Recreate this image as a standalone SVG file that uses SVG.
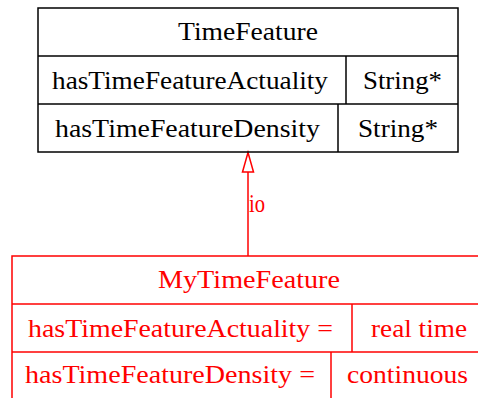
<svg xmlns="http://www.w3.org/2000/svg" width="478" height="398" viewBox="0 0 478 398">
<style>
  .bg{fill:#ffffff}
  .box{fill:none;stroke:#000;stroke-width:1.5}
  .rbox{fill:none;stroke:#ff0000;stroke-width:1.5}
  text{font-family:"Liberation Serif","Times New Roman",serif;font-size:25px;text-anchor:middle}
  .k{fill:#000}
  .r{fill:#ff0000}
  .edge{stroke:#ff0000;stroke-width:1.5;fill:none}
</style>
<defs>
  <marker id="hollow" viewBox="0 0 12 22" refX="11" refY="6" markerWidth="12" markerHeight="22" markerUnits="userSpaceOnUse" orient="auto">
    <path d="M1,0.5 L11,6 L1,11.5 Z" fill="#fff" stroke="#ff0000" stroke-width="1.5"/>
  </marker>
</defs>
<rect class="bg" x="0" y="0" width="478" height="398"/>
<g id="connectors">
  <line class="edge" x1="248" y1="256" x2="248" y2="172"/>
  <path d="M248,152.5 L253.5,172 L242.5,172 Z" fill="#fff" stroke="#ff0000" stroke-width="1.5"/>
  <text class="r" x="257" y="212" textLength="16" lengthAdjust="spacingAndGlyphs">io</text>
</g>
<g id="TimeFeature">
  <rect class="box" x="38" y="8" width="420" height="144"/>
  <line class="box" x1="38" y1="56" x2="458" y2="56"/>
  <line class="box" x1="38" y1="104" x2="458" y2="104"/>
  <line class="box" x1="346" y1="56" x2="346" y2="104"/>
  <line class="box" x1="338" y1="104" x2="338" y2="152"/>
  <text class="k" x="248" y="40" textLength="140" lengthAdjust="spacingAndGlyphs">TimeFeature</text>
  <text class="k" x="190" y="89" textLength="276" lengthAdjust="spacingAndGlyphs">hasTimeFeatureActuality</text>
  <text class="k" x="402.5" y="89" textLength="79" lengthAdjust="spacingAndGlyphs">String*</text>
  <text class="k" x="187.5" y="137" textLength="265" lengthAdjust="spacingAndGlyphs">hasTimeFeatureDensity</text>
  <text class="k" x="398" y="137" textLength="80" lengthAdjust="spacingAndGlyphs">String*</text>
</g>
<g id="MyTimeFeature">
  <rect class="rbox" x="12" y="256" width="476" height="144"/>
  <line class="rbox" x1="12" y1="304" x2="488" y2="304"/>
  <line class="rbox" x1="12" y1="352" x2="488" y2="352"/>
  <line class="rbox" x1="352" y1="304" x2="352" y2="352"/>
  <line class="rbox" x1="331" y1="352" x2="331" y2="400"/>
  <text class="r" x="249" y="288" textLength="182" lengthAdjust="spacingAndGlyphs">MyTimeFeature</text>
  <text class="r" x="180.5" y="337" textLength="305" lengthAdjust="spacingAndGlyphs">hasTimeFeatureActuality =</text>
  <text class="r" x="419" y="337" textLength="96" lengthAdjust="spacingAndGlyphs">real time</text>
  <text class="r" x="170" y="383" textLength="290" lengthAdjust="spacingAndGlyphs">hasTimeFeatureDensity =</text>
  <text class="r" x="407.5" y="383" textLength="121" lengthAdjust="spacingAndGlyphs">continuous</text>
</g>
</svg>
